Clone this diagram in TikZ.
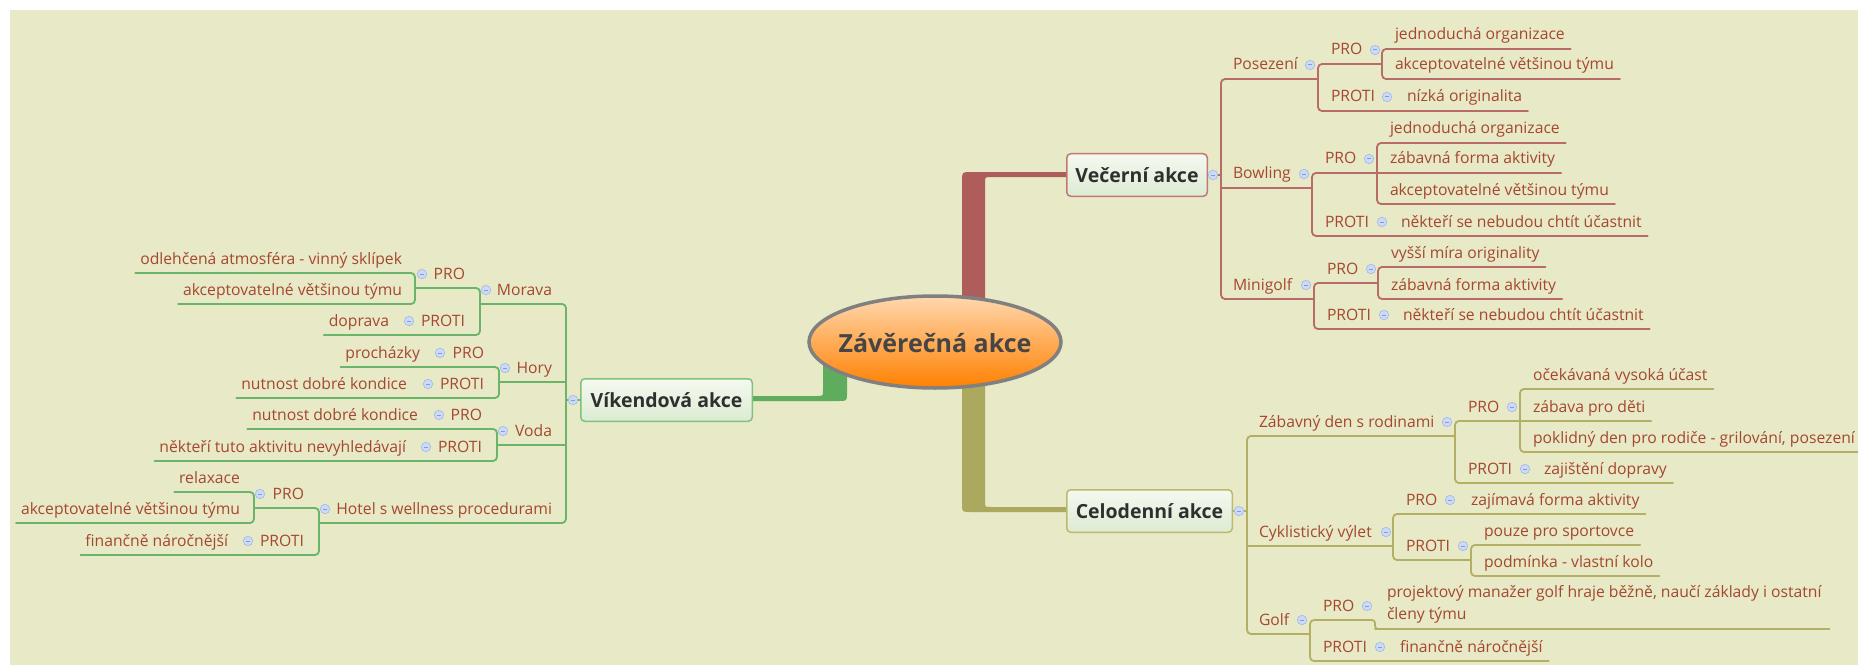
\documentclass[tikz,border=0pt]{standalone}
\usepackage{fontspec}
\newfontfamily\mmfont{Open Sans}
\usetikzlibrary{shapes.geometric,backgrounds}

\definecolor{bgc}{HTML}{E8E9C6}
\definecolor{leafc}{HTML}{A4482F}
\definecolor{titlec}{HTML}{2F2F2F}
\definecolor{rootc}{HTML}{454545}
\definecolor{roottop}{HTML}{FFD8AE}
\definecolor{rootbot}{HTML}{FF8000}
\definecolor{rootline}{HTML}{808080}
\definecolor{boxtop}{HTML}{F5F9F0}
\definecolor{boxbot}{HTML}{DCEBD2}
\definecolor{redfill}{HTML}{AE5D5C}
\definecolor{redline}{HTML}{B86C68}
\definecolor{redbox}{HTML}{C27874}
\definecolor{greenfill}{HTML}{5FAC5F}
\definecolor{greenline}{HTML}{6AB56A}
\definecolor{greenbox}{HTML}{7DC27D}
\definecolor{olivefill}{HTML}{ABA95D}
\definecolor{oliveline}{HTML}{B3B065}
\definecolor{olivebox}{HTML}{BDB96E}
\definecolor{iconfill}{HTML}{CCDAF5}
\definecolor{iconline}{HTML}{A6BCEB}
\definecolor{iconminus}{HTML}{7F9CDB}
\colorlet{brc}{redline}

\newcommand\leaffont{\mmfont\fontsize{15.7bp}{22bp}\selectfont}
\newcommand\titlefont{\mmfont\bfseries\fontsize{19.5bp}{24bp}\selectfont}
\newcommand\rootfont{\mmfont\bfseries\fontsize{25bp}{30bp}\selectfont}

% right-hand leaf: name, text x, underline y, line start x, text
\newcommand\mmRleaf[5]{%
  \node[leaf,anchor=base west] (#1) at (#2,#3-9) {#5};
  \draw[br] (#4,#3) -- ([xshift=6bp,yshift=-9bp]#1.base east);}
% right-hand topic: name, text x, underline y, line start x, line end x, icon x, text
\newcommand\mmRtopic[7]{%
  \node[leaf,anchor=base west] (#1) at (#2,#3-9) {#7};
  \node[icon] (#1-i) at (#6,#3-14) {};
  \draw[br] (#4,#3) -- (#5,#3);}
% bracket opening to the right: x, top y, bottom y
\newcommand\mmRbracket[3]{\draw[br,rounded corners=4bp] (#1+8,#2) -- (#1,#2) -- (#1,#3) -- (#1+8,#3);}
% left-hand leaf: name, text right x, underline y, line end x, text
\newcommand\mmLleaf[5]{%
  \node[leaf,anchor=base east] (#1) at (#2,#3-9) {#5};
  \draw[br] ([xshift=-5bp,yshift=-9bp]#1.base west) -- (#4,#3);}
% left-hand topic: name, text right x, underline y, line start x, line end x, icon x, text
\newcommand\mmLtopic[7]{%
  \node[leaf,anchor=base east] (#1) at (#2,#3-9) {#7};
  \node[icon] (#1-i) at (#6,#3-14) {};
  \draw[br] (#4,#3) -- (#5,#3);}
% bracket opening to the left: x, top y, bottom y
\newcommand\mmLbracket[3]{\draw[br,rounded corners=4bp] (#1-8,#2) -- (#1,#2) -- (#1,#3) -- (#1-8,#3);}

\begin{document}
\begin{tikzpicture}[x=1bp,y=-1bp,
  leaf/.style={font=\leaffont, text=leafc, inner sep=0pt, outer sep=0pt},
  br/.style={draw=brc, line width=1.8bp, line cap=round},
  icon/.style={circle, minimum size=9.5bp, inner sep=0pt, fill=iconfill, draw=iconline, line width=0.7bp,
    path picture={\draw[iconminus,line width=1bp] ([xshift=-2.2bp]path picture bounding box.center) -- ([xshift=2.2bp]path picture bounding box.center);}},
  mainbox/.style={rectangle, rounded corners=4bp, line width=1.5bp, top color=boxtop, bottom color=boxbot,
    font=\titlefont, text=titlec, inner sep=0pt, minimum height=42.5bp}]
\useasboundingbox (0,0) rectangle (1858,665);

% central topic and main topics
\node[ellipse, minimum width=252bp, minimum height=92bp, draw=rootline, line width=3.5bp,
  top color=roottop, bottom color=rootbot, inner sep=0pt] (root) at (935,342) {};
\node[font=\rootfont, text=rootc, inner sep=0pt, anchor=base] (roottitle) at (935,352) {Závěrečná akce};
\node[mainbox, draw=redbox, minimum width=140.5bp] (vec) at (1137,175) {Večerní akce};
\node[mainbox, draw=greenbox, minimum width=171.5bp] (vik) at (666.5,400) {Víkendová akce};
\node[mainbox, draw=olivebox, minimum width=165.5bp] (cel) at (1149.5,511) {Celodenní akce};

\begin{pgfonlayer}{background}
  \fill[white] (0,0) rectangle (1858,665);
  \fill[bgc] (10,10) rectangle (1858,665);
  % tapered branches leaving the central topic
  \fill[redfill] (962,330) -- (962,181) .. controls (962,172) .. (971,172)
    -- ([yshift=3bp]vec.west) -- ([yshift=-2bp]vec.west) -- (991,177)
    .. controls (985,177) .. (985,183) -- (985,330) -- cycle;
  \fill[greenfill] (823,350) -- (823,390) .. controls (823,396) .. (817,396)
    -- ([yshift=4bp]vik.east) -- ([yshift=-1bp]vik.east) -- (839,401)
    .. controls (847,401) .. (847,393) -- (847,350) -- cycle;
  \fill[olivefill] (962,350) -- (962,504) .. controls (962,512) .. (970,512)
    -- ([yshift=-1bp]cel.west) -- ([yshift=4bp]cel.west) -- (991,507)
    .. controls (985,507) .. (985,501) -- (985,350) -- cycle;
\end{pgfonlayer}

% ---------- Víkendová akce ----------
\begin{scope}
\colorlet{brc}{greenline}
\draw[br] (vik.west) -- (566,400);
\node[icon] (vik-i) at (573,400) {};
\mmLbracket{566}{304}{523}

\mmLtopic{mor}{552}{304}{480}{562}{486}{Morava}
\mmLbracket{480}{288}{335}
\mmLtopic{morp}{465}{288}{415}{476}{422}{PRO}
\mmLbracket{415}{273}{304}
\mmLleaf{mor1}{402}{273}{411}{odlehčená atmosféra - vinný sklípek}
\mmLleaf{mor2}{402}{304}{411}{akceptovatelné většinou týmu}
\mmLtopic{morc}{465}{335}{389}{476}{409}{PROTI}
\mmLleaf{mor3}{389}{335}{389}{doprava}

\mmLtopic{hor}{552}{382}{499}{566}{505}{Hory}
\mmLbracket{499}{367}{398}
\mmLtopic{horp}{484}{367}{420}{495}{440}{PRO}
\mmLleaf{hor1}{420}{367}{420}{procházky}
\mmLtopic{horc}{484}{398}{407}{495}{428}{PROTI}
\mmLleaf{hor2}{407}{398}{407}{nutnost dobré kondice}

\mmLtopic{vod}{552}{445}{497}{566}{503}{Voda}
\mmLbracket{497}{429}{461}
\mmLtopic{vodp}{482}{429}{418}{493}{439}{PRO}
\mmLleaf{vod1}{418}{429}{418}{nutnost dobré kondice}
\mmLtopic{vodc}{482}{461}{406}{493}{426}{PROTI}
\mmLleaf{vod2}{406}{461}{406}{někteří tuto aktivitu nevyhledávají}

\mmLtopic{hot}{552}{523}{319}{562}{325}{Hotel s wellness procedurami}
\mmLbracket{319}{508}{555}
\mmLtopic{hotp}{304}{508}{254}{315}{260}{PRO}
\mmLbracket{254}{492}{523}
\mmLleaf{hot1}{240}{492}{250}{relaxace}
\mmLleaf{hot2}{240}{523}{250}{akceptovatelné většinou týmu}
\mmLtopic{hotc}{304}{555}{228}{315}{248}{PROTI}
\mmLleaf{hot3}{228}{555}{228}{finančně náročnější}
\end{scope}

% ---------- Večerní akce ----------
\begin{scope}
\colorlet{brc}{redline}
\draw[br] (vec.east) -- (1221,175);
\node[icon] (vec-i) at (1213,175) {};
\mmRbracket{1221}{79}{299}

\mmRtopic{pos}{1233}{79}{1225}{1318}{1310}{Posezení}
\mmRbracket{1318}{64}{111}
\mmRtopic{posp}{1331}{64}{1322}{1382}{1375}{PRO}
\mmRbracket{1382}{49}{79}
\mmRleaf{pos1}{1395}{49}{1386}{jednoduchá organizace}
\mmRleaf{pos2}{1395}{79}{1386}{akceptovatelné většinou týmu}
\mmRtopic{posc}{1331}{111}{1322}{1401}{1387}{PROTI}
\mmRleaf{pos3}{1407}{111}{1401}{nízká originalita}

\mmRtopic{bow}{1233}{188}{1221}{1312}{1304}{Bowling}
\mmRbracket{1312}{173}{236}
\mmRtopic{bowp}{1325}{173}{1316}{1377}{1369}{PRO}
\mmRbracket{1377}{143}{204}
\mmRleaf{bow1}{1390}{143}{1381}{jednoduchá organizace}
\mmRleaf{bow2}{1390}{173}{1377}{zábavná forma aktivity}
\mmRleaf{bow3}{1390}{204}{1381}{akceptovatelné většinou týmu}
\mmRtopic{bowc}{1325}{236}{1316}{1395}{1382}{PROTI}
\mmRleaf{bow4}{1401}{236}{1395}{někteří se nebudou chtít účastnit}

\mmRtopic{min}{1233}{299}{1225}{1314}{1306}{Minigolf}
\mmRbracket{1314}{283}{329}
\mmRtopic{minp}{1327}{283}{1318}{1378}{1371}{PRO}
\mmRbracket{1378}{267}{299}
\mmRleaf{min1}{1391}{267}{1382}{vyšší míra originality}
\mmRleaf{min2}{1391}{299}{1382}{zábavná forma aktivity}
\mmRtopic{minc}{1327}{329}{1318}{1397}{1384}{PROTI}
\mmRleaf{min3}{1403}{329}{1397}{někteří se nebudou chtít účastnit}
\end{scope}

% ---------- Celodenní akce ----------
\begin{scope}
\colorlet{brc}{oliveline}
\draw[br] (cel.east) -- (1247,511);
\node[icon] (cel-i) at (1239,511) {};
\mmRbracket{1247}{436}{634}

\mmRtopic{zab}{1259}{436}{1251}{1455}{1447}{Zábavný den s rodinami}
\mmRbracket{1455}{421}{483}
\mmRtopic{zabp}{1468}{421}{1459}{1520}{1512}{PRO}
\mmRbracket{1520}{389}{452}
\mmRleaf{zab1}{1533}{389}{1524}{očekávaná vysoká účast}
\mmRleaf{zab2}{1533}{421}{1520}{zábava pro děti}
\mmRleaf{zab3}{1533}{452}{1524}{poklidný den pro rodiče - grilování, posezení}
\mmRtopic{zabc}{1468}{483}{1459}{1538}{1525}{PROTI}
\mmRleaf{zab4}{1544}{483}{1538}{zajištění dopravy}

\mmRtopic{cyk}{1259}{546}{1247}{1393}{1386}{Cyklistický výlet}
\mmRbracket{1393}{514}{560}
\mmRtopic{cykp}{1406}{514}{1397}{1465}{1450}{PRO}
\mmRleaf{cyk1}{1471}{514}{1465}{zajímavá forma aktivity}
\mmRtopic{cykc}{1406}{560}{1397}{1471}{1463}{PROTI}
\mmRbracket{1471}{545}{576}
\mmRleaf{cyk2}{1484}{545}{1475}{pouze pro sportovce}
\mmRleaf{cyk3}{1484}{576}{1475}{podmínka - vlastní kolo}

\mmRtopic{gol}{1259}{634}{1251}{1310}{1302}{Golf}
\mmRbracket{1310}{620}{661}
\mmRtopic{golp}{1323}{620}{1314}{1371}{1367}{PRO}
\coordinate (golstep) at (1375,629);
\draw[br,rounded corners=3bp] (1366,620) -- (1375,620) -- (golstep) -- (1384,629);
\node[leaf,anchor=south west,align=left] (gol1) at (1387,623)
  {projektový manažer golf hraje běžně, naučí základy i ostatní\\členy týmu};
\draw[br] (golstep) -- (gol1.east |- golstep) -- ++(8,0);
\mmRtopic{golc}{1323}{661}{1314}{1394}{1380}{PROTI}
\mmRleaf{gol2}{1400}{661}{1394}{finančně náročnější}
\end{scope}
\end{tikzpicture}
\end{document}
